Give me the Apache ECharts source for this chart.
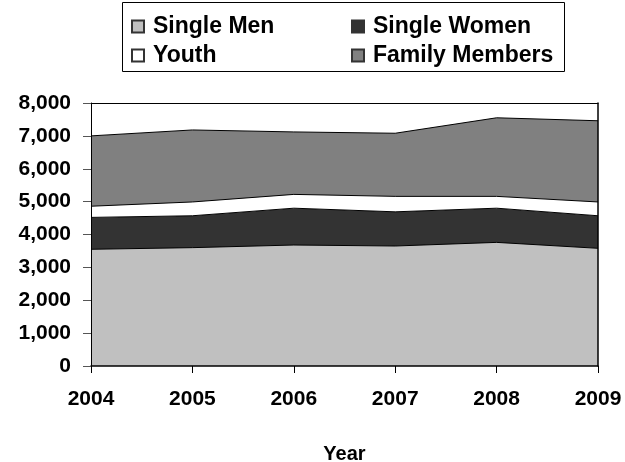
<!DOCTYPE html>
<html>
<head>
<meta charset="utf-8">
<script src="https://cdn.jsdelivr.net/npm/echarts@6/dist/echarts.min.js"></script>
<style>
  html, body { margin: 0; padding: 0; background: #fff; }
  #chart { width: 625px; height: 462px; }
</style>
</head>
<body>
<div id="chart"></div>
<script>
// data
const years = ['2004', '2005', '2006', '2007', '2008', '2009']
const singleMen = [3550, 3600, 3680, 3650, 3760, 3580]
const singleWomen = [970, 970, 1120, 1040, 1040, 990]
const youth = [340, 420, 420, 470, 360, 420]
const familyMembers = [2140, 2190, 1900, 1920, 2390, 2470]

const font = '"Liberation Sans", Arial, sans-serif'

function area (name, data, color) {
  return {
    name,
    type: 'line',
    stack: 'total',
    data,
    symbol: 'none',
    lineStyle: { color: '#000', width: 1 },
    itemStyle: { color, borderColor: '#333', borderWidth: 1 },
    areaStyle: { color, opacity: 1 }
  }
}

const legendText = { fontFamily: font, fontWeight: 'bold', fontSize: 23, color: '#000', padding: [0, 0, 0, 4] }
const legendBase = {
  orient: 'vertical',
  top: 10,
  itemGap: 6,
  itemWidth: 12,
  itemHeight: 12,
  icon: 'rect',
  textStyle: legendText,
  selectedMode: false
}

let myChart = echarts.init(document.getElementById('chart'))
myChart.setOption({
  animation: false,
  graphic: [{
    type: 'rect',
    shape: { x: 122.5, y: 2.5, width: 442, height: 69 },
    style: { fill: 'none', stroke: '#000', lineWidth: 1 }
  }],
  legend: [
    Object.assign({ left: 126, data: ['Single Men', 'Youth'] }, legendBase),
    Object.assign({ left: 346, data: ['Single Women', 'Family Members'] }, legendBase)
  ],
  grid: { left: 91, right: 27, top: 103, bottom: 96, containLabel: false, outerBoundsMode: 'none' },
  xAxis: [{
    type: 'category',
    data: years,
    boundaryGap: false,
    z: 5,
    name: 'Year',
    nameLocation: 'middle',
    nameGap: 78,
    nameTextStyle: { fontFamily: font, fontWeight: 'bold', fontSize: 20, color: '#000' },
    axisLine: { lineStyle: { color: '#000', width: 1.5 } },
    axisTick: { length: 7, lineStyle: { color: '#000' } },
    axisLabel: { fontFamily: font, fontWeight: 'bold', fontSize: 21, color: '#000', margin: 23, hideOverlap: false }
  }, {
    type: 'category',
    data: years,
    boundaryGap: false,
    position: 'top',
    z: 5,
    axisLine: { onZero: false, lineStyle: { color: '#000', width: 1 } },
    axisTick: { show: false },
    axisLabel: { show: false }
  }],
  yAxis: [{
    type: 'value',
    min: 0,
    max: 8000,
    interval: 1000,
    z: 5,
    splitLine: { show: false },
    axisLine: { show: true, lineStyle: { color: '#000', width: 1 } },
    axisTick: { show: true, length: 8, lineStyle: { color: '#555' } },
    axisLabel: {
      fontFamily: font, fontWeight: 'bold', fontSize: 21, color: '#000', margin: 20,
      formatter: v => v.toLocaleString('en-US')
    }
  }, {
    type: 'value',
    position: 'right',
    min: 0,
    max: 8000,
    z: 5,
    splitLine: { show: false },
    axisLine: { show: true, onZero: false, lineStyle: { color: '#000', width: 1.5 } },
    axisTick: { show: false },
    axisLabel: { show: false }
  }],
  series: [
    area('Single Men', singleMen, '#c0c0c0'),
    area('Single Women', singleWomen, '#333333'),
    area('Youth', youth, '#ffffff'),
    area('Family Members', familyMembers, '#808080')
  ]
})
</script>
</body>
</html>
